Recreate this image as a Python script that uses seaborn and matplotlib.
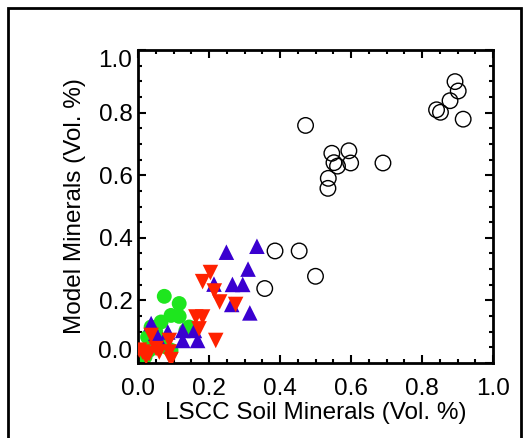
import matplotlib
matplotlib.use("Agg")
import matplotlib.pyplot as plt
import seaborn as sns
from matplotlib.patches import Rectangle
from matplotlib.ticker import MultipleLocator, FormatStrFormatter

sns.set_theme(style="white")
plt.rcParams['font.family'] = ['Liberation Sans', 'DejaVu Sans']

# Black open circles
circ_x = [0.472, 0.546, 0.552, 0.562, 0.594, 0.599, 0.536, 0.535, 0.690,
          0.841, 0.852, 0.879, 0.893, 0.902, 0.916, 0.386, 0.454, 0.500, 0.357]
circ_y = [0.759, 0.670, 0.640, 0.629, 0.678, 0.639, 0.590, 0.558, 0.639,
          0.809, 0.801, 0.838, 0.899, 0.869, 0.779, 0.358, 0.358, 0.277, 0.238]

# Green filled circles
green_x = [0.074, 0.116, 0.093, 0.116, 0.065, 0.037, 0.027, 0.079, 0.093,
           0.135, 0.144, 0.032, 0.050, 0.060, 0.020]
green_y = [0.213, 0.190, 0.152, 0.149, 0.131, 0.115, 0.083, 0.051, 0.041,
           0.104, 0.115, 0.041, 0.100, 0.070, 0.020]

# Blue up triangles
blue_x = [0.335, 0.249, 0.310, 0.214, 0.266, 0.295, 0.264, 0.315,
          0.037, 0.084, 0.060, 0.126, 0.126, 0.159, 0.168, 0.050]
blue_y = [0.373, 0.354, 0.300, 0.252, 0.251, 0.251, 0.187, 0.160,
          0.126, 0.099, 0.072, 0.104, 0.072, 0.104, 0.072, 0.095]

# Red down triangles
red_x = [0.204, 0.182, 0.215, 0.230, 0.275, 0.219, 0.163, 0.182, 0.172,
         0.037, 0.013, 0.032, 0.051, 0.088, 0.088, 0.093, 0.004, 0.023, 0.060]
red_y = [0.289, 0.260, 0.230, 0.195, 0.187, 0.072, 0.147, 0.147, 0.109,
         0.088, 0.035, 0.030, 0.046, 0.072, 0.035, 0.011, 0.041, 0.019, 0.035]

fig = plt.figure(figsize=(5.29, 4.38), dpi=100)
ax = fig.add_axes([138/529, 1 - 363/438, 355/529, 313/438])

sns.scatterplot(x=green_x, y=green_y, ax=ax, marker='o', s=115,
                color='#1ee61e', edgecolor='none', linewidth=0, zorder=2)
sns.scatterplot(x=blue_x, y=blue_y, ax=ax, marker='^', s=125,
                color='#3a00d0', edgecolor='none', linewidth=0, zorder=3)
sns.scatterplot(x=red_x, y=red_y, ax=ax, marker='v', s=125,
                color='#ff2200', edgecolor='none', linewidth=0, zorder=4)
sns.scatterplot(x=circ_x, y=circ_y, ax=ax, marker='o', s=125,
                facecolor='none', edgecolor='black', linewidth=1.0, zorder=5)

ax.set_xlim(0, 1)
ax.set_ylim(0, 1)
ax.xaxis.set_major_locator(MultipleLocator(0.2))
ax.yaxis.set_major_locator(MultipleLocator(0.2))
ax.xaxis.set_minor_locator(MultipleLocator(0.05))
ax.yaxis.set_minor_locator(MultipleLocator(0.05))
ax.xaxis.set_major_formatter(FormatStrFormatter('%.1f'))
ax.yaxis.set_major_formatter(FormatStrFormatter('%.1f'))
ax.tick_params(which='both', direction='in', top=True, right=True,
               bottom=True, left=True, color='black', width=1.5)
ax.tick_params(which='major', length=6, labelsize=17.5, labelcolor='black')
ax.tick_params(axis='x', which='major', pad=11)
ax.tick_params(axis='y', which='major', pad=4)
ax.tick_params(which='minor', length=3)
for sp in ax.spines.values():
    sp.set_linewidth(2)
    sp.set_color('black')
ax.set_xlabel('LSCC Soil Minerals (Vol. %)', fontsize=17.5, labelpad=1, color='black')
ax.set_ylabel('Model Minerals (Vol. %)', fontsize=17.5, labelpad=9, color='black')
ax.grid(False)

fig.canvas.draw()
ylabels = ax.get_yticklabels()
for lab in ylabels:
    t = lab.get_text()
    if t == '1.0':
        lab.set_verticalalignment('top')
    elif t == '0.0':
        lab.set_verticalalignment('bottom')

fig.patches.append(Rectangle((8/529, -0.05), 513/529, 1 - 8/438 + 0.05,
                             transform=fig.transFigure, fill=False,
                             edgecolor='black', linewidth=2, clip_on=False))

fig.savefig('out.png', dpi=100)
